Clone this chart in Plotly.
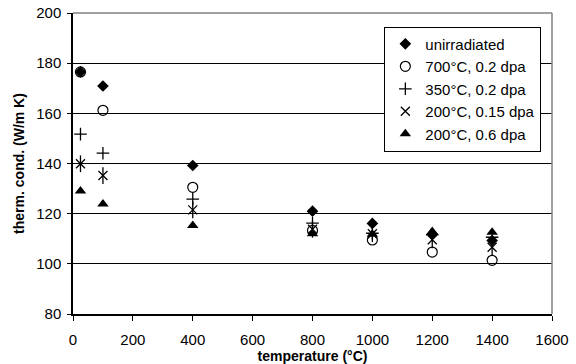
import plotly.graph_objects as go

temps = [25, 100, 400, 800, 1000, 1200, 1400]
unirradiated = [176.5, 170.9, 139.2, 121.0, 116.1, 111.8, 109.3]
c700_02 = [176.5, 161.2, 130.5, 113.3, 109.5, 104.7, 101.4]
c350_02 = [151.7, 144.1, 125.8, 116.2, 112.2, 111.6, 110.6]
c200_015 = [139.9, 135.2, 121.5, 113.8, 112.0, 109.6, 106.6]
c200_06 = [129.0, 123.9, 115.3, 112.0, 111.8, 112.9, 112.6]

names = ["unirradiated", "700°C, 0.2 dpa", "350°C, 0.2 dpa", "200°C, 0.15 dpa", "200°C, 0.6 dpa"]

FONT = "Liberation Sans, Arial, sans-serif"
fig = go.Figure()

fig.add_trace(go.Scatter(x=temps, y=c200_06, mode="markers", name=names[4],
                         marker=dict(symbol="triangle-up", size=10, color="black")))
fig.add_trace(go.Scatter(x=temps, y=c200_015, mode="markers", name=names[3],
                         marker=dict(symbol="x-thin-open", size=9, color="black",
                                     line=dict(color="black", width=1.3))))
fig.add_trace(go.Scatter(x=temps, y=c200_015, mode="markers", showlegend=False,
                         marker=dict(symbol="line-ns-open", size=12, color="black",
                                     line=dict(color="black", width=1.3))))
fig.add_trace(go.Scatter(x=temps, y=c350_02, mode="markers", name=names[2],
                         marker=dict(symbol="cross-thin-open", size=9, color="black",
                                     line=dict(color="black", width=1.3))))
fig.add_trace(go.Scatter(x=temps, y=c700_02, mode="markers", name=names[1],
                         marker=dict(symbol="circle-open", size=10, color="black",
                                     line=dict(color="black", width=1.2))))
fig.add_trace(go.Scatter(x=temps, y=unirradiated, mode="markers", name=names[0],
                         marker=dict(symbol="diamond", size=9, color="black")))

fig.update_layout(
    width=576, height=364,
    margin=dict(l=73, r=24, t=13, b=50, autoexpand=False),
    paper_bgcolor="white", plot_bgcolor="white",
    font=dict(family=FONT, size=15, color="black"),
    showlegend=True,
    legend=dict(x=0.65, y=0.955, xanchor="left", yanchor="top",
                traceorder="reversed",
                bgcolor="white", bordercolor="black", borderwidth=1,
                font=dict(family=FONT, size=15, color="black"),
                itemwidth=30),
    xaxis=dict(range=[0, 1600], tickvals=[0, 200, 400, 600, 800, 1000, 1200, 1400, 1600],
               showgrid=False, zeroline=False, showline=True, linecolor="black", linewidth=1.5,
               ticks="outside", ticklen=5, tickcolor="black", automargin=False,
               ticklabelstandoff=6,
               tickfont=dict(family=FONT, size=15),
               title=dict(text="<b>temperature (°C)</b>", font=dict(family=FONT, size=14), standoff=2)),
    yaxis=dict(range=[80, 200], tickvals=[80, 100, 120, 140, 160, 180, 200],
               showgrid=True, gridcolor="black", gridwidth=1, zeroline=False,
               showline=True, linecolor="black", linewidth=1.5, automargin=False,
               ticks="outside", ticklen=4, tickcolor="black",
               ticklabelstandoff=3,
               tickfont=dict(family=FONT, size=15),
               title=dict(text="<b>therm. cond. (W/m K)</b>", font=dict(family=FONT, size=14), standoff=8)),
)

fig.add_shape(type="line", xref="paper", yref="paper", x0=0, x1=1, y0=1, y1=1,
              line=dict(color="#808080", width=1.5))
fig.add_shape(type="line", xref="paper", yref="paper", x0=1, x1=1, y0=0, y1=1,
              line=dict(color="#808080", width=1.5))

fig.write_html("out.html", config={"displayModeBar": False},
               post_script="document.body.style.margin='0';")
